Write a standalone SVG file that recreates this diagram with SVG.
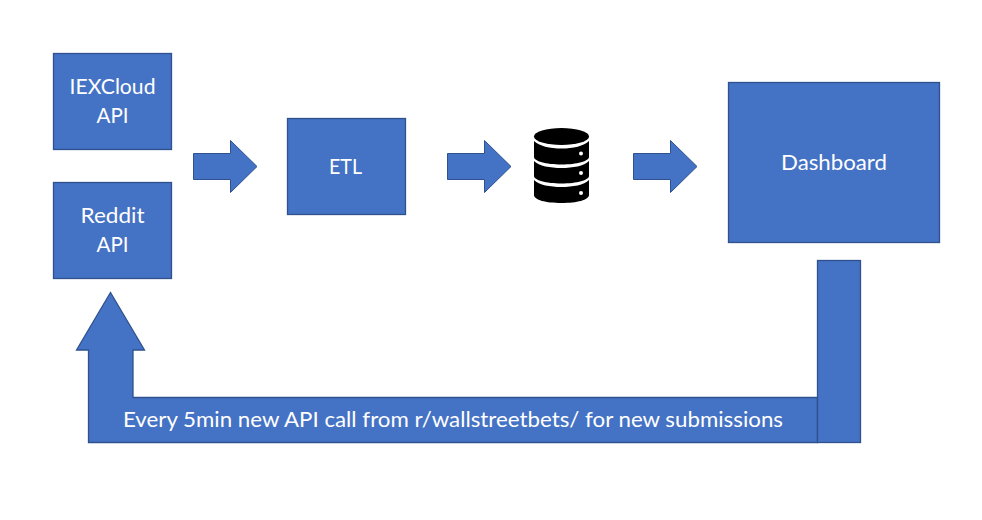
<svg xmlns="http://www.w3.org/2000/svg" width="982" height="520" viewBox="0 0 982 520">
<style>
.s{fill:#4472c4;stroke:#2f528f;stroke-width:1.3}
.a{fill:#4472c4;stroke:#2f528f;stroke-width:1;stroke-linejoin:miter}
text{font-family:Lato,"Liberation Sans",sans-serif;font-size:21.5px;fill:#fff;text-anchor:middle}
</style>
<rect width="982" height="520" fill="#fff"/>
<g id="connectors">
<path id="arrow-sources-etl" class="a" d="M193.500 153.500H230.500V140.500L257 166.500L230.500 192.500V179.500H193.500Z"/>
<path id="arrow-etl-db" class="a" d="M447.500 153.500H484.500V140.500L511 166.500L484.500 192.500V179.500H447.500Z"/>
<path id="arrow-db-dash" class="a" d="M633.500 153.500H670.500V140.500L697 166.500L670.500 192.500V179.500H633.500Z"/>
<g id="feedback">
<path class="s" d="M110.500 292.500L144.500 350H133V397.500H817.500V442.500H88.500V350H76.500Z"/>
<rect class="s" x="817.500" y="260.500" width="43" height="182"/>
<text x="453" y="427" textLength="660" lengthAdjust="spacingAndGlyphs">Every 5min new API call from r/wallstreetbets/ for new submissions</text>
</g>
</g>
<g id="iexcloud"><rect class="s" x="53.500" y="53.500" width="118" height="96"/><text x="112.500" y="94" textLength="86" lengthAdjust="spacingAndGlyphs">IEXCloud</text><text x="112.500" y="123" textLength="32" lengthAdjust="spacingAndGlyphs">API</text></g>
<g id="reddit"><rect class="s" x="53.500" y="182.500" width="118" height="96"/><text x="112.500" y="223" textLength="64" lengthAdjust="spacingAndGlyphs">Reddit</text><text x="112.500" y="252" textLength="32" lengthAdjust="spacingAndGlyphs">API</text></g>
<g id="etl"><rect class="s" x="287.500" y="118.500" width="118" height="96"/><text x="345.500" y="174" textLength="33" lengthAdjust="spacingAndGlyphs">ETL</text></g>
<g id="database" fill="#000">
<ellipse cx="561.500" cy="136.500" rx="27.500" ry="8.500"/>
<path d="M534 141C539 146 550 148.500 561.500 148.500C573 148.500 584 146 589 141V157C589 161 577 164.500 561.500 164.500C546 164.500 534 161 534 157Z"/>
<path d="M534 161C539 166 550 168 561.500 168C573 168 584 166 589 161V176C589 180 577 183.500 561.500 183.500C546 183.500 534 180 534 176Z"/>
<path d="M534 180C539 185 550 187 561.500 187C573 187 584 185 589 180V195C589 200 577 203 561.500 203C546 203 534 200 534 195Z"/>
<circle cx="581" cy="153.500" r="2" fill="#fff"/><circle cx="581" cy="173" r="2" fill="#fff"/><circle cx="581" cy="193" r="2" fill="#fff"/>
</g>
<g id="dashboard"><rect class="s" x="728.500" y="82.500" width="211" height="160"/><text x="834" y="170" textLength="106" lengthAdjust="spacingAndGlyphs">Dashboard</text></g>
</svg>
